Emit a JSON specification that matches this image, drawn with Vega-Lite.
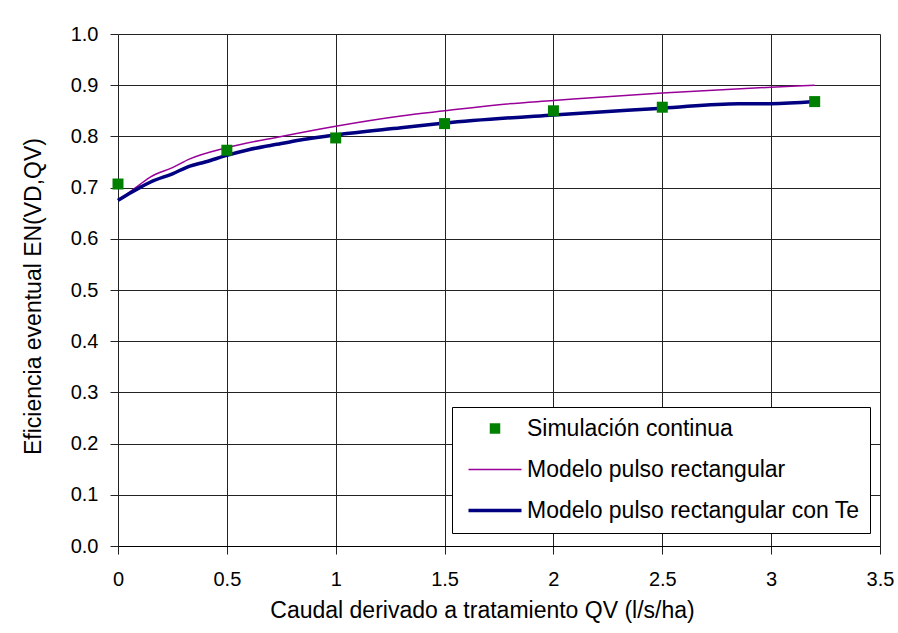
{
  "$schema": "https://vega.github.io/schema/vega-lite/v6.json",
  "width": 762,
  "height": 512,
  "autosize": {"type": "none"},
  "padding": {"left": 118, "top": 34, "right": 18, "bottom": 87},
  "background": "white",
  "config": {
    "font": "Liberation Sans",
    "view": {"stroke": null},
    "axis": {
      "gridColor": "#222",
      "gridOpacity": 1,
      "gridWidth": 1,
      "domainColor": "#000",
      "tickColor": "#222",
      "tickSize": 8,
      "labelFont": "Liberation Sans",
      "labelFontSize": 20,
      "labelColor": "#000",
      "labelFlush": false,
      "titleFont": "Liberation Sans",
      "titleFontSize": 23,
      "titleFontWeight": "normal",
      "titleColor": "#000"
    }
  },
  "datasets": {
    "sim": [
      {"q": 0, "e": 0.707, "serie": "Simulación continua"},
      {"q": 0.5, "e": 0.773, "serie": "Simulación continua"},
      {"q": 1.0, "e": 0.797, "serie": "Simulación continua"},
      {"q": 1.5, "e": 0.825, "serie": "Simulación continua"},
      {"q": 2.0, "e": 0.850, "serie": "Simulación continua"},
      {"q": 2.5, "e": 0.857, "serie": "Simulación continua"},
      {"q": 3.2, "e": 0.868, "serie": "Simulación continua"}
    ],
    "mod1": [
      {"q": 0, "e": 0.676, "serie": "Modelo pulso rectangular"},
      {"q": 0.05, "e": 0.690, "serie": "Modelo pulso rectangular"},
      {"q": 0.1, "e": 0.706, "serie": "Modelo pulso rectangular"},
      {"q": 0.15, "e": 0.721, "serie": "Modelo pulso rectangular"},
      {"q": 0.25, "e": 0.739, "serie": "Modelo pulso rectangular"},
      {"q": 0.33, "e": 0.756, "serie": "Modelo pulso rectangular"},
      {"q": 0.5, "e": 0.778, "serie": "Modelo pulso rectangular"},
      {"q": 0.75, "e": 0.800, "serie": "Modelo pulso rectangular"},
      {"q": 1.0, "e": 0.820, "serie": "Modelo pulso rectangular"},
      {"q": 1.3, "e": 0.840, "serie": "Modelo pulso rectangular"},
      {"q": 1.5, "e": 0.850, "serie": "Modelo pulso rectangular"},
      {"q": 1.75, "e": 0.862, "serie": "Modelo pulso rectangular"},
      {"q": 2.0, "e": 0.870, "serie": "Modelo pulso rectangular"},
      {"q": 2.5, "e": 0.885, "serie": "Modelo pulso rectangular"},
      {"q": 3.0, "e": 0.896, "serie": "Modelo pulso rectangular"},
      {"q": 3.2, "e": 0.900, "serie": "Modelo pulso rectangular"}
    ],
    "mod2": [
      {"q": 0, "e": 0.675, "serie": "Modelo pulso rectangular con Te"},
      {"q": 0.05, "e": 0.688, "serie": "Modelo pulso rectangular con Te"},
      {"q": 0.1, "e": 0.700, "serie": "Modelo pulso rectangular con Te"},
      {"q": 0.15, "e": 0.711, "serie": "Modelo pulso rectangular con Te"},
      {"q": 0.25, "e": 0.727, "serie": "Modelo pulso rectangular con Te"},
      {"q": 0.33, "e": 0.742, "serie": "Modelo pulso rectangular con Te"},
      {"q": 0.4, "e": 0.750, "serie": "Modelo pulso rectangular con Te"},
      {"q": 0.5, "e": 0.763, "serie": "Modelo pulso rectangular con Te"},
      {"q": 0.6, "e": 0.774, "serie": "Modelo pulso rectangular con Te"},
      {"q": 0.75, "e": 0.786, "serie": "Modelo pulso rectangular con Te"},
      {"q": 0.85, "e": 0.794, "serie": "Modelo pulso rectangular con Te"},
      {"q": 1.0, "e": 0.803, "serie": "Modelo pulso rectangular con Te"},
      {"q": 1.3, "e": 0.817, "serie": "Modelo pulso rectangular con Te"},
      {"q": 1.5, "e": 0.826, "serie": "Modelo pulso rectangular con Te"},
      {"q": 2.0, "e": 0.842, "serie": "Modelo pulso rectangular con Te"},
      {"q": 2.5, "e": 0.855, "serie": "Modelo pulso rectangular con Te"},
      {"q": 2.85, "e": 0.864, "serie": "Modelo pulso rectangular con Te"},
      {"q": 3.0, "e": 0.864, "serie": "Modelo pulso rectangular con Te"},
      {"q": 3.2, "e": 0.868, "serie": "Modelo pulso rectangular con Te"}
    ]
  },
  "encoding": {
    "x": {
      "field": "q", "type": "quantitative",
      "scale": {"domain": [0, 3.5], "nice": false, "zero": false},
      "axis": {
        "values": [0, 0.5, 1, 1.5, 2, 2.5, 3, 3.5],
        "format": "~g",
        "title": "Caudal derivado a tratamiento QV (l/s/ha)",
        "labelPadding": 15,
        "titlePadding": 10,
        "titleX": 364,
        "domain": true
      }
    },
    "y": {
      "field": "e", "type": "quantitative",
      "scale": {"domain": [0, 1], "nice": false},
      "axis": {
        "values": [0, 0.1, 0.2, 0.3, 0.4, 0.5, 0.6, 0.7, 0.8, 0.9, 1.0],
        "format": ".1f",
        "title": "Eficiencia eventual EN(VD,QV)",
        "labelPadding": 12,
        "titlePadding": 25,
        "titleY": 262,
        "domain": false
      }
    },
    "color": {
      "field": "serie", "type": "nominal",
      "scale": {
        "domain": ["Simulación continua", "Modelo pulso rectangular", "Modelo pulso rectangular con Te"],
        "range": ["#008000", "#990099", "#000080"]
      },
      "legend": {
        "title": null,
        "orient": "none",
        "legendX": 334,
        "legendY": 373,
        "strokeColor": "#000",
        "fillColor": "white",
        "padding": 10,
        "labelFontSize": 23,
        "labelFont": "Liberation Sans",
        "labelColor": "#000",
        "labelLimit": 0,
        "rowPadding": 17,
        "encode": {
          "symbols": {
            "update": {
              "x": {"value": 33},
              "shape": {"signal": "datum.index === 0 ? 'square' : 'stroke'"},
              "size": {"signal": "datum.index === 0 ? 110 : 2809"},
              "strokeWidth": {"signal": "datum.index === 0 ? 0 : (datum.index === 1 ? 1.5 : 3.5)"},
              "stroke": {"signal": "scale('color', datum.value)"},
              "fill": {"signal": "scale('color', datum.value)"},
              "opacity": {"value": 1}
            }
          },
          "labels": {
            "update": {
              "x": {"value": 65}
            }
          }
        }
      }
    }
  },
  "layer": [
    {
      "data": {"name": "mod1"},
      "mark": {"type": "line", "interpolate": "monotone", "strokeWidth": 1.5}
    },
    {
      "data": {"name": "mod2"},
      "mark": {"type": "line", "interpolate": "monotone", "strokeWidth": 3.5}
    },
    {
      "data": {"name": "sim"},
      "mark": {"type": "point", "filled": true, "shape": "square", "size": 121, "opacity": 1}
    }
  ]
}
